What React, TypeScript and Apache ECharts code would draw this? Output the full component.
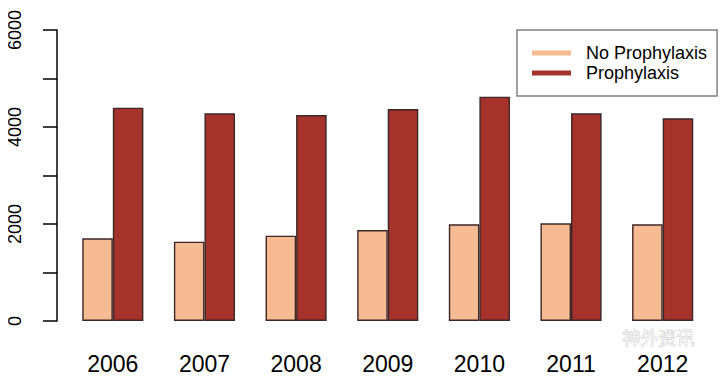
import React, { useEffect, useRef } from "react";
import * as echarts from "echarts";

const years = ["2006", "2007", "2008", "2009", "2010", "2011", "2012"];
const noProphylaxis = [1705, 1635, 1760, 1876, 1994, 2014, 1994];
const prophylaxis = [4398, 4282, 4247, 4371, 4625, 4282, 4179];
const seriesNames = ["No Prophylaxis", "Prophylaxis"];
const watermark = "神外资讯";

export default function App() {
  const ref = useRef<HTMLDivElement>(null);
  useEffect(() => {
    if (!ref.current) return;
    const chart = echarts.init(ref.current, null, { renderer: "svg" });
    const font = "'Liberation Sans', Arial, sans-serif";
    chart.setOption({
      animation: false,
      backgroundColor: "#ffffff",
      textStyle: { fontFamily: font },
      grid: { left: 67, right: 17.5, top: 30, bottom: 60 },
      legend: {
        orient: "vertical",
        left: 517,
        top: 30,
        padding: [13, 10, 13, 15],
        backgroundColor: "#ffffff",
        borderColor: "#808080",
        borderWidth: 1.5,
        itemGap: 0,
        itemWidth: 39,
        itemHeight: 5,
        icon: "rect",
        itemStyle: { borderWidth: 0 },
        textStyle: {
          fontFamily: font,
          fontSize: 18,
          color: "#000",
          lineHeight: 20,
          padding: [0, 0, 0, 10],
        },
        data: seriesNames,
      },
      xAxis: {
        type: "category",
        data: years,
        axisLine: { show: false },
        axisTick: { show: false },
        axisLabel: { fontSize: 23, color: "#000", margin: 31, fontFamily: font },
      },
      yAxis: {
        type: "value",
        min: 0,
        max: 6000,
        interval: 1000,
        offset: 10,
        splitLine: { show: false },
        axisLine: { show: true, lineStyle: { color: "#000", width: 1.5 } },
        axisTick: { show: true, length: 14, lineStyle: { color: "#000", width: 1.5 } },
        axisLabel: {
          rotate: 90,
          fontSize: 18,
          color: "#000",
          margin: 33,
          fontFamily: font,
          formatter: (v: number) => (v % 2000 === 0 ? String(v) : ""),
        },
      },
      series: [
        {
          name: seriesNames[0],
          type: "bar",
          data: noProphylaxis,
          barGap: "0%",
          barCategoryGap: "33.3%",
          itemStyle: { color: "#F6BB93", borderColor: "#3d2626", borderWidth: 1.4 },
        },
        {
          name: seriesNames[1],
          type: "bar",
          data: prophylaxis,
          barGap: "0%",
          barCategoryGap: "33.3%",
          itemStyle: { color: "#A5332C", borderColor: "#3d2626", borderWidth: 1.4 },
        },
      ],
      graphic: [
        {
          type: "text",
          left: 622,
          top: 328,
          silent: true,
          style: {
            text: watermark,
            fontSize: 18,
            fontFamily: "'Noto Sans CJK SC', sans-serif",
            fill: "#f4f4f4",
            stroke: "#c8c8c8",
            lineWidth: 0.8,
          },
        },
      ],
    });
    return () => chart.dispose();
  }, []);
  return <div ref={ref} style={{ width: 726, height: 381, margin: -8 }} />;
}
